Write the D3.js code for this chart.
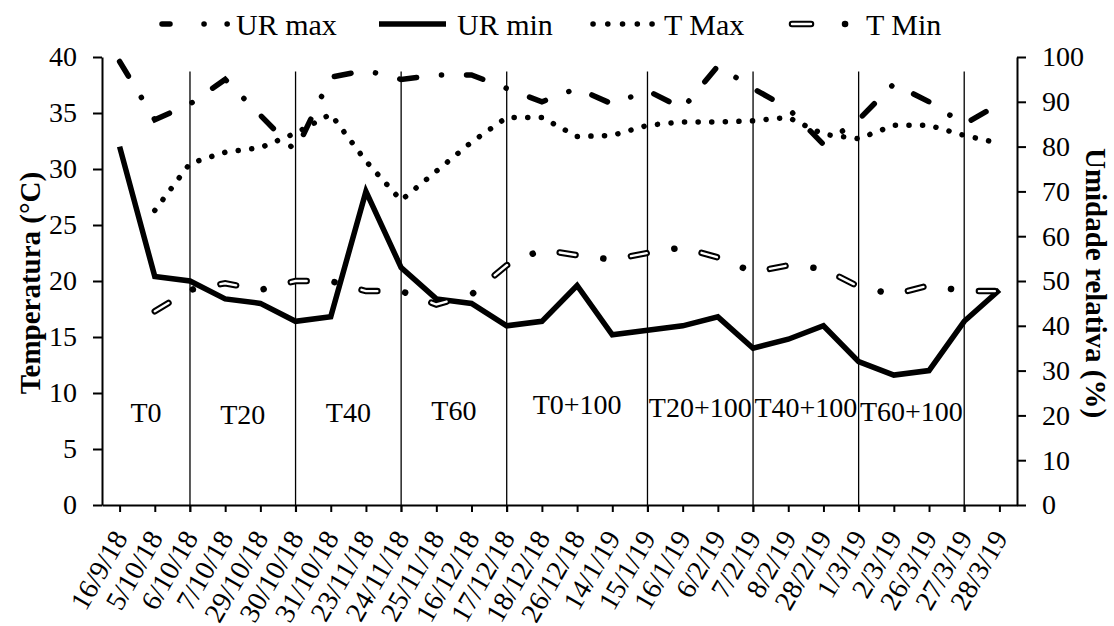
<!DOCTYPE html>
<html>
<head>
<meta charset="utf-8">
<script src="https://cdnjs.cloudflare.com/ajax/libs/d3/7.8.5/d3.min.js"></script>
<style>
  body { margin: 0; background: #fff; }
  svg { display: block; background: #fff; }
</style>
</head>
<body>
<svg id="chart" width="1114" height="626"></svg>
<script>
// data
const dates = ["16/9/18", "5/10/18", "6/10/18", "7/10/18", "29/10/18", "30/10/18", "31/10/18",
  "23/11/18", "24/11/18", "25/11/18", "16/12/18", "17/12/18", "18/12/18", "26/12/18", "14/1/19",
  "15/1/19", "16/1/19", "6/2/19", "7/2/19", "8/2/19", "28/2/19", "1/3/19", "2/3/19", "26/3/19",
  "27/3/19", "28/3/19"]
const urMax = [99, 86, 89.5, 95, 87, 79, 95.5, 97, 95, 96, 96, 93, 90, 93, 89.5, 92.5, 88.5, 98, 93,
  88.5, 80.5, 86, 94, 90, 85, 89.5]
const urMin = [80, 51, 50, 46, 45, 41, 42, 70, 53, 46, 45, 40, 41, 49, 38, 39, 40, 42, 35, 37, 40,
  32, 29, 30, 41, 48]
const tMax = [null, 26.3, 30.5, 31.5, 31.9, 33.2, 34.9, 30.7, 27.2, 29.8, 32.4, 34.6, 34.6, 32.9,
  33.0, 33.9, 34.2, 34.2, 34.3, 34.6, 33.1, 32.7, 33.9, 33.9, 33.0, 32.3]
const tMin = [null, 17.3, 19.2, 19.8, 19.2, 20.0, 20.0, 19.1, 19.1, 17.9, 18.8, 21.4, 22.8, 22.3,
  21.9, 22.5, 23.0, 22.1, 20.8, 21.4, 21.1, 19.5, 18.8, 19.6, 19.1, 19.1]
const treatments = ["T0", "T20", "T40", "T60", "T0+100", "T20+100", "T40+100", "T60+100"]
const separators = ["6/10/18", "30/10/18", "24/11/18", "17/12/18", "15/1/19", "7/2/19", "1/3/19", "27/3/19"]
const tTicks = [0, 5, 10, 15, 20, 25, 30, 35, 40]
const hTicks = [0, 10, 20, 30, 40, 50, 60, 70, 80, 90, 100]

// layout
const plot = {left: 102, right: 1017, top: 57, bottom: 505}
const sepTop = 38.7
const labelLevel = [8.3, 8.1, 8.3, 8.5, 9.0, 8.7, 8.7, 8.4]
const font = "'Liberation Serif', 'Times New Roman', serif"

let svg = d3.select("#chart")

let x = d3.scalePoint().domain(dates).range([plot.left, plot.right]).padding(0.5)
let yT = d3.scaleLinear().domain([0, 40]).range([plot.bottom, plot.top])
let yH = d3.scaleLinear().domain([0, 100]).range([plot.bottom, plot.top])

// treatment separators
svg.selectAll(".sep")
  .data(separators)
  .enter().append("line")
  .attr("class", "sep")
  .attr("x1", d => x(d)).attr("x2", d => x(d))
  .attr("y1", yT(sepTop)).attr("y2", plot.bottom + 7)
  .attr("stroke", "#000")
  .attr("stroke-width", 1.3)

let edges = [plot.left].concat(separators.map(d => x(d)))

svg.selectAll(".trt")
  .data(treatments)
  .enter().append("text")
  .attr("class", "trt")
  .attr("x", (d, i) => (edges[i] + edges[i + 1]) / 2)
  .attr("y", (d, i) => yT(labelLevel[i]))
  .attr("dy", "0.35em")
  .attr("text-anchor", "middle")
  .attr("font-family", font)
  .attr("font-size", 28)
  .text(d => d)

// axes
function styleAxis (g) {
  g.attr("font-family", font).attr("font-size", 28)
  g.select(".domain").attr("stroke", "#000").attr("stroke-width", 2)
  g.selectAll(".tick line").attr("stroke", "#000").attr("stroke-width", 2)
  g.selectAll(".tick text").attr("fill", "#000")
}

svg.append("g")
  .attr("transform", `translate(${plot.left},0)`)
  .call(d3.axisLeft(yT).tickValues(tTicks).tickSize(9).tickSizeOuter(0).tickPadding(16))
  .call(styleAxis)

svg.append("g")
  .attr("transform", `translate(${plot.right},0)`)
  .call(d3.axisRight(yH).tickValues(hTicks).tickSize(9).tickSizeOuter(0).tickPadding(16))
  .call(styleAxis)

let xAxis = svg.append("g")
  .attr("transform", `translate(0,${plot.bottom})`)
  .call(d3.axisBottom(x).tickSize(7).tickSizeOuter(0))
  .call(styleAxis)

xAxis.selectAll(".tick text")
  .attr("x", 0).attr("y", 0)
  .attr("dy", "0.35em")
  .attr("text-anchor", "end")
  .attr("transform", "translate(0,28) rotate(-60)")

// series
let lineOf = (vals, y) => d3.line()
  .defined(d => d != null)
  .x((d, i) => x(dates[i]))
  .y(d => y(d))(vals)

svg.append("path")
  .attr("d", lineOf(urMax, yH))
  .attr("fill", "none").attr("stroke", "#000")
  .attr("stroke-width", 5.5)
  .attr("stroke-linecap", "round")
  .attr("stroke-dasharray", "17,25,0.1,25")

svg.append("path")
  .attr("d", lineOf(urMin, yH))
  .attr("fill", "none").attr("stroke", "#000")
  .attr("stroke-width", 5.5)
  .attr("stroke-linejoin", "miter")

svg.append("path")
  .attr("d", lineOf(tMax, yT))
  .attr("fill", "none").attr("stroke", "#000")
  .attr("stroke-width", 5.5)
  .attr("stroke-linecap", "round")
  .attr("stroke-dasharray", "0.1,13.5")

let tMinPath = lineOf(tMin, yT)
svg.append("path")
  .attr("d", tMinPath)
  .attr("fill", "none").attr("stroke", "#000")
  .attr("stroke-width", 6.5)
  .attr("stroke-linecap", "round")
  .attr("stroke-dasharray", "16,28,0.1,28")
svg.append("path")
  .attr("d", tMinPath)
  .attr("fill", "none").attr("stroke", "#fff")
  .attr("stroke-width", 2.4)
  .attr("stroke-linecap", "round")
  .attr("stroke-dasharray", "16,56.1")

// axis titles
svg.append("text")
  .attr("transform", "translate(40,283) rotate(-90)")
  .attr("text-anchor", "middle")
  .attr("font-family", font).attr("font-weight", "bold").attr("font-size", 29)
  .text("Temperatura (°C)")

svg.append("text")
  .attr("transform", "translate(1086,283) rotate(90)")
  .attr("text-anchor", "middle")
  .attr("font-family", font).attr("font-weight", "bold").attr("font-size", 29)
  .text("Umidade relativa (%)")

// legend
let legend = svg.append("g")
let ly = 24

legend.append("path")
  .attr("d", `M162,${ly}H229`)
  .attr("stroke", "#000").attr("stroke-width", 5.5).attr("stroke-linecap", "round")
  .attr("stroke-dasharray", "8,34,0.1,23,0.1,100")
legend.append("path")
  .attr("d", `M379,${ly}H446`)
  .attr("stroke", "#000").attr("stroke-width", 5.5)
legend.append("path")
  .attr("d", `M593,${ly}H653`)
  .attr("stroke", "#000").attr("stroke-width", 5.5).attr("stroke-linecap", "round")
  .attr("stroke-dasharray", "0.1,14.65")
legend.append("path")
  .attr("d", `M792,${ly}H846`)
  .attr("stroke", "#000").attr("stroke-width", 6.5).attr("stroke-linecap", "round")
  .attr("stroke-dasharray", "19,34,0.1,40")
legend.append("path")
  .attr("d", `M792,${ly}H846`)
  .attr("stroke", "#fff").attr("stroke-width", 2.4).attr("stroke-linecap", "round")
  .attr("stroke-dasharray", "19,80")

legend.selectAll("text")
  .data([["UR max", 236], ["UR min", 457], ["T Max", 664], ["T Min", 866]])
  .enter().append("text")
  .attr("x", d => d[1]).attr("y", 35)
  .attr("font-family", font).attr("font-size", 30)
  .text(d => d[0])
</script>
</body>
</html>
